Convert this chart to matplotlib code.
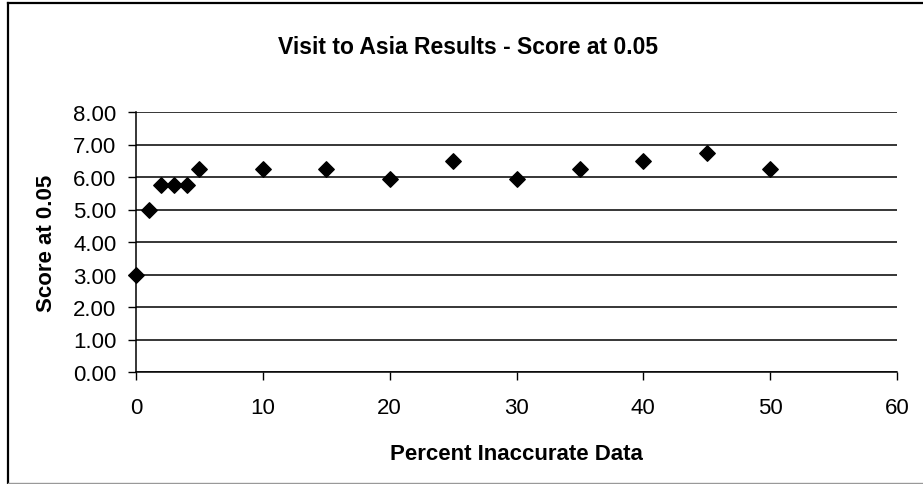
import matplotlib
matplotlib.use('Agg')
import matplotlib.pyplot as plt
from matplotlib.lines import Line2D

# dados
percent_inaccurate = [0, 1, 2, 3, 4, 5, 10, 15, 20, 25, 30, 35, 40, 45, 50]
score = [3.00, 5.00, 5.75, 5.75, 5.75, 6.25, 6.25, 6.25, 5.95, 6.50, 5.95, 6.25, 6.50, 6.75, 6.25]

x_ticks = [0, 10, 20, 30, 40, 50, 60]
y_ticks = [0, 1, 2, 3, 4, 5, 6, 7, 8]

plt.rcParams['font.family'] = ['Liberation Sans', 'DejaVu Sans']

W, H = 923, 485
fig = plt.figure(figsize=(W / 100, H / 100), dpi=100)
ax = fig.add_axes([136 / W, 1 - 373 / H, (897 - 136) / W, (373 - 113) / H])

ax.scatter(percent_inaccurate, score, marker='D', s=62, color='black', zorder=3, clip_on=False)

ax.set_xlim(0, 60)
ax.set_ylim(0, 8)
ax.set_xticks(x_ticks)
ax.set_yticks(y_ticks)
ax.set_yticklabels([f'{v:.2f}' for v in y_ticks])
ax.tick_params(direction='out', length=6, width=1, labelsize=16, colors='black')
ax.tick_params(axis='x', pad=12)
ax.tick_params(axis='y', pad=8)

ax.grid(axis='y', color='black', linewidth=1.1)
ax.set_axisbelow(True)
ax.spines['top'].set_visible(False)
ax.spines['right'].set_visible(False)
ax.spines['left'].set_linewidth(1.1)
ax.spines['bottom'].set_linewidth(1.1)

fig.text(468 / W, 1 - 47 / H, 'Visit to Asia Results - Score at 0.05', fontsize=16.5,
         fontweight='bold', ha='center', va='center')
ax.set_xlabel('Percent Inaccurate Data', fontsize=16, fontweight='bold', labelpad=18)
ax.set_ylabel('Score at 0.05', fontsize=16, fontweight='bold', labelpad=12)

# moldura do grafico (esquerda/topo pretas, base cinza)
fig.lines.append(Line2D([8 / W, 8 / W], [0, 1 - 4 / H], transform=fig.transFigure, color='black', linewidth=1.6))
fig.lines.append(Line2D([8 / W, 1], [1 - 4 / H, 1 - 4 / H], transform=fig.transFigure, color='black', linewidth=1.6))
fig.lines.append(Line2D([8 / W, 1], [0.6 / H, 0.6 / H], transform=fig.transFigure, color='#999999', linewidth=1))

fig.savefig('out.png', dpi=100)
